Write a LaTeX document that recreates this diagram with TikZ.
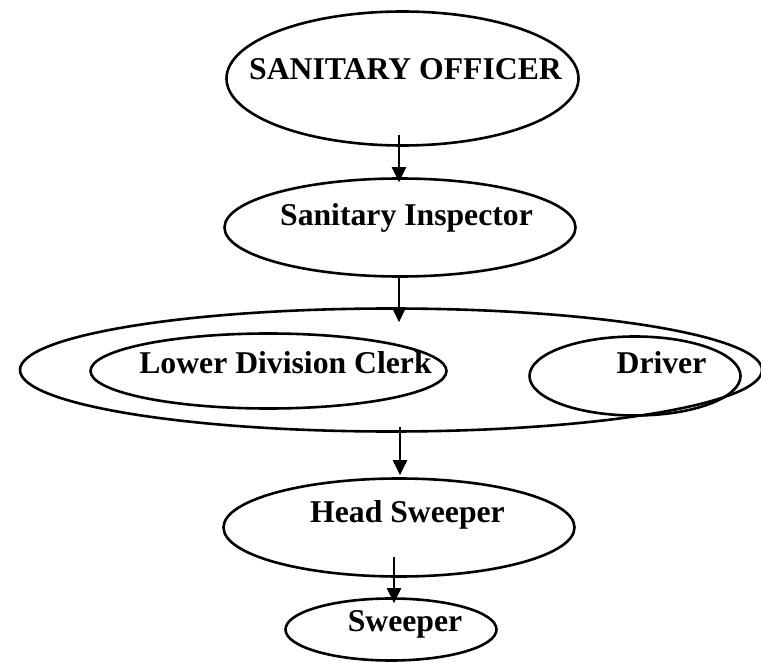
\documentclass[tikz,border=0pt]{standalone}
\usepackage{fontspec}
\setmainfont{Liberation Serif}
\usetikzlibrary{shapes.geometric,arrows.meta}
\begin{document}
\begin{tikzpicture}[x=1pt,y=-1pt,
  oval/.style={draw,line width=2.6pt,shape=ellipse,inner sep=0pt},
  lbl/.style={anchor=base,inner sep=0pt,font=\fontsize{31.7}{38}\selectfont\bfseries},
  arr/.style={line width=2pt,-{Triangle[length=15pt,width=14pt]}}]
\useasboundingbox (0,0) rectangle (761,663);
% outlines
\node[oval,minimum width=352pt,minimum height=134pt] (officer) at (402.5,78.5) {};
\node[oval,minimum width=351pt,minimum height=98pt] (inspector) at (400,227.5) {};
\node[oval,minimum width=742pt,minimum height=123pt] (staff) at (391,370) {};
\node[oval,minimum width=356pt,minimum height=75pt] (clerk) at (268.5,371) {};
\node[oval,minimum width=211pt,minimum height=79pt] (driver) at (635,376) {};
\node[oval,minimum width=351pt,minimum height=98pt] (head) at (399,527.5) {};
\node[oval,minimum width=211pt,minimum height=62pt] (sweeper) at (391,629.5) {};
% titles
\node[lbl] (tofficer) at (405.5,80) {SANITARY OFFICER};
\node[lbl] (tinspector) at (406.5,226) {Sanitary Inspector};
\node[lbl] (tclerk) at (285.5,373) {Lower Division Clerk};
\node[lbl] (tdriver) at (661.5,373) {Driver};
\node[lbl] (thead) at (407.5,522) {Head Sweeper};
\node[lbl] (tsweeper) at (405,631) {Sweeper};
% reporting lines
\draw[arr] ([xshift=-3.5pt,yshift=12pt]officer.south) -- ([xshift=-1pt,yshift=-5pt]inspector.north);
\draw[arr] ([xshift=-1pt,yshift=3pt]inspector.south) -- ([xshift=8pt,yshift=-15pt]staff.north);
\draw[arr] ([xshift=9pt,yshift=6pt]staff.south) -- ([xshift=1pt,yshift=2pt]head.north);
\draw[arr] ([xshift=-5pt,yshift=21pt]head.south) -- ([xshift=3pt,yshift=-6pt]sweeper.north);
\end{tikzpicture}
\end{document}
